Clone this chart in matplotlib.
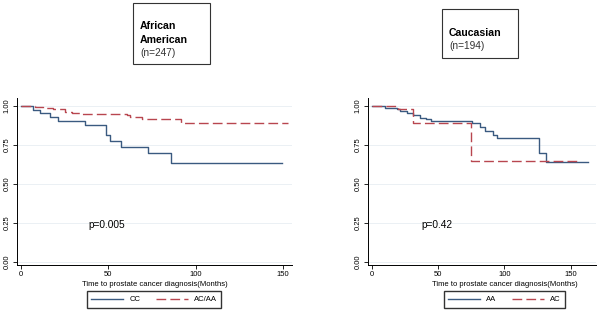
import matplotlib
matplotlib.use("Agg")
import matplotlib.pyplot as plt
import matplotlib.patches as patches

plt.rcParams['font.family'] = ['Liberation Sans', 'DejaVu Sans']

# Kaplan-Meier curves (months, survival fraction)
aa_cc_t = [0, 7.2, 11.0, 16.8, 21.5, 36.7, 48.7, 51.0, 57.1, 72.5, 85.7, 149.6]
aa_cc_s = [1.0, 0.974, 0.953, 0.927, 0.906, 0.876, 0.814, 0.778, 0.740, 0.697, 0.633, 0.633]
aa_acaa_t = [0, 8.2, 12.9, 18.7, 25.3, 29.1, 34.8, 60.5, 62.4, 69.1, 91.9, 152.9]
aa_acaa_s = [1.0, 0.996, 0.989, 0.979, 0.964, 0.953, 0.947, 0.943, 0.928, 0.915, 0.889, 0.889]

ca_aa_t = [0, 10.0, 18.8, 21.4, 26.4, 30.9, 36.4, 41.0, 45.0, 75.4, 81.7, 85.4, 91.7, 94.7,
           126.4, 131.4, 162.6]
ca_aa_s = [1.0, 0.99, 0.98, 0.97, 0.957, 0.943, 0.925, 0.915, 0.902, 0.888, 0.868, 0.84,
           0.815, 0.793, 0.697, 0.644, 0.64]
ca_ac_t = [0, 20.1, 31.4, 74.9, 157.0]
ca_ac_s = [1.0, 0.979, 0.893, 0.65, 0.65]

y_ticks = [0, 0.25, 0.5, 0.75, 1.0]
y_labels = ["0.00", "0.25", "0.50", "0.75", "1.00"]
x_ticks = [0, 50, 100, 150]

BLUE = '#3a5a80'
RED = '#b8464f'
W, H = 601, 312


def fx(px):
    return px / W


def fy(py):
    return 1 - py / H


fig = plt.figure(figsize=(6.01, 3.12), dpi=100)

panels = [
    dict(x0=17, x1=292, xlim=(-2.1, 155.1),
         series=[(aa_cc_t, aa_cc_s, 'CC', '-'), (aa_acaa_t, aa_acaa_s, 'AC/AA', '--')],
         p="p=0.005", p_xy=(88, 225), leg=(154, 299.5),
         box=(133, 3, 210, 64), group=["African", "American"], n="(n=247)",
         xlab_x=155),
    dict(x0=368, x1=596, xlim=(-2.8, 169.0),
         series=[(ca_aa_t, ca_aa_s, 'AA', '-'), (ca_ac_t, ca_ac_s, 'AC', '--')],
         p="p=0.42", p_xy=(421, 225), leg=(504.5, 299.5),
         box=(442, 9, 518, 58), group=["Caucasian"], n="(n=194)",
         xlab_x=505),
]

for pn in panels:
    ax = fig.add_axes([fx(pn['x0']), fy(265), fx(pn['x1'] - pn['x0']), (265 - 98) / H])
    ax.set_xlim(*pn['xlim'])
    ax.set_ylim(-0.019, 1.051)
    for t, s, lab, ls in pn['series']:
        if ls == '--':
            ax.step(t, s, where='post', color=RED, lw=1.0, ls=(0, (7, 3)), label=lab)
        else:
            ax.step(t, s, where='post', color=BLUE, lw=1.0, label=lab)
    ax.set_yticks(y_ticks)
    ax.set_yticklabels(y_labels, rotation=90, va='center')
    ax.set_xticks(x_ticks)
    ax.tick_params(labelsize=5.5, length=3, width=0.6, pad=1.5, color='black')
    ax.grid(axis='y', color='#e8eef3', lw=0.6)
    ax.set_axisbelow(True)
    for side in ['top', 'right']:
        ax.spines[side].set_visible(False)
    for side in ['left', 'bottom']:
        ax.spines[side].set_linewidth(0.7)
    fig.text(fx(pn['xlab_x']), fy(284), "Time to prostate cancer diagnosis(Months)",
             ha='center', va='center', fontsize=5.5)
    fig.text(fx(pn['p_xy'][0]), fy(pn['p_xy'][1]), pn['p'], ha='left', va='center',
             fontsize=7.3)
    handles, labels = ax.get_legend_handles_labels()
    fig.legend(handles, labels, loc='center', bbox_to_anchor=(fx(pn['leg'][0]), fy(pn['leg'][1])),
               ncol=2, fontsize=5.5, frameon=True, fancybox=False, edgecolor='black',
               handlelength=4.2, columnspacing=2.0, borderpad=0.6, handletextpad=0.8)
    # title box
    bx0, by0, bx1, by1 = pn['box']
    fig.add_artist(patches.Rectangle((fx(bx0), fy(by1)), fx(bx1 - bx0), (by1 - by0) / H,
                                     transform=fig.transFigure, fill=False,
                                     edgecolor='#333333', lw=0.8))
    lines = pn['group']
    ny = 26 if len(lines) == 2 else 33
    for ln in lines:
        fig.text(fx(bx0 + 7), fy(ny), ln, ha='left', va='center', fontsize=7.6,
                 fontweight='bold')
        ny += 14
    fig.text(fx(bx0 + 7), fy(ny - 1), pn['n'], ha='left', va='center', fontsize=7.3,
             color='#333333')

fig.savefig("out.png", dpi=100)
